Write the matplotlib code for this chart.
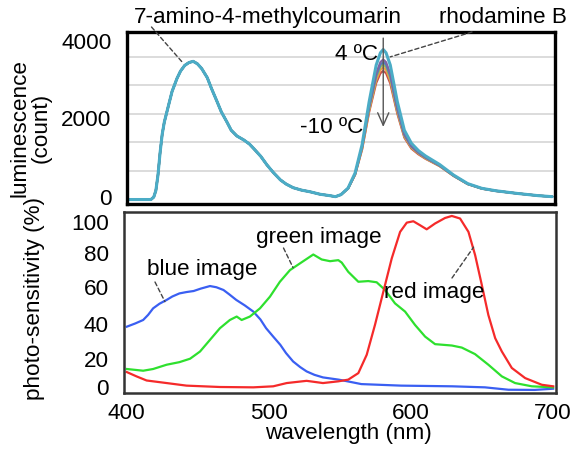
import matplotlib
matplotlib.use('Agg')
import matplotlib.pyplot as plt
from matplotlib.transforms import ScaledTranslation

plt.rcParams['font.family'] = ['Liberation Sans', 'DejaVu Sans']

W, H = 579, 453

# --- luminescence spectra (top) ---
# shared part of the spectrum (7-amino-4-methylcoumarin band), identical for all temperatures
lum_wl_common = [400, 410, 415, 417, 418.5, 420, 421.5, 423, 424.5, 427.5, 430, 433.5, 436, 439,
                 442, 445, 448, 451, 455, 458, 462, 465, 469, 472, 476, 481, 485, 488, 493, 497.5,
                 502, 507, 511, 516, 522, 528, 535, 542, 546, 550]
lum_common = [0, 0, 0, 60, 220, 600, 1150, 1600, 1900, 2310, 2650, 2970, 3150, 3290,
              3360, 3390, 3330, 3215, 2990, 2725, 2400, 2150, 1900, 1700, 1560, 1460, 1360, 1250, 1060, 845,
              660, 480, 380, 290, 230, 190, 130, 95, 70, 120]

# rhodamine B band, one series per temperature
lum_wl_rhod = [555, 560, 565, 570, 575, 578, 580, 582, 585, 590, 595, 600, 605, 610, 620,
               630, 640, 650, 660, 675, 690, 700]
temps = ['4', '0', '-2', '-4', '-6', '-10']
lum_rhod = {
    '4':   [280, 650, 1350, 2400, 3300, 3600, 3680, 3600, 3300, 2400, 1700, 1380, 1200, 1070, 860, 600, 390, 275, 215, 150, 95, 70],
    '0':   [275, 630, 1300, 2300, 3100, 3370, 3435, 3370, 3090, 2260, 1610, 1320, 1160, 1040, 840, 590, 385, 272, 213, 150, 95, 70],
    '-2':  [275, 625, 1290, 2270, 3040, 3310, 3370, 3310, 3030, 2220, 1590, 1300, 1150, 1030, 835, 585, 383, 271, 212, 150, 95, 70],
    '-4':  [272, 620, 1270, 2230, 2990, 3250, 3310, 3250, 2980, 2190, 1570, 1290, 1140, 1020, 830, 583, 381, 270, 212, 150, 95, 70],
    '-6':  [270, 615, 1250, 2190, 2930, 3180, 3240, 3180, 2920, 2150, 1550, 1270, 1130, 1010, 825, 580, 380, 268, 211, 150, 95, 70],
    '-10': [268, 605, 1230, 2150, 2860, 3100, 3155, 3100, 2850, 2110, 1520, 1250, 1110, 1000, 820, 578, 378, 267, 210, 150, 95, 70],
}
temp_colors = {'4': '#4bacc6', '0': '#8064a2', '-2': '#4f81bd', '-4': '#9bbb59',
               '-6': '#f79646', '-10': '#c0504d'}

# --- photo-sensitivity (bottom) ---
blue_wl = [400, 406, 411.5, 415, 418.5, 423, 428, 432, 437, 442, 447, 452, 458.5, 463, 468, 472, 477,
           483, 489, 494, 498, 503, 508, 512, 517, 522, 526.5, 532, 538, 549, 553.5, 565, 593,
           629, 652, 668.5, 687, 700]
blue_val = [35.6, 37.5, 39.5, 42.5, 46.3, 49, 51.2, 53.2, 55, 55.8, 56.4, 57.8, 59.3, 58.6, 57, 54.5, 51.2,
            48, 44.4, 39.8, 34.7, 29.8, 25, 20.2, 15.3, 12, 9.5, 7.5, 6,
            4.7, 4, 2.1, 1.2, 0.8, 0.2, -1.2, -1.3, -0.6]

green_wl = [400, 411.5, 418.5, 428, 437, 444.5, 451.5, 458.5, 465.5, 472.5, 477.3, 480.8, 486.6,
            493.7, 500.7, 507.7, 514.8, 521.8, 531.2, 537.1, 543, 548.8, 551.2, 555.8, 562.9,
            569.9, 575.8, 581.7, 588.7, 595.8, 602.8, 609.9, 616.9, 628.7, 635.7, 645, 654.4,
            663.9, 673.2, 685, 700]
green_val = [10.9, 9.9, 10.9, 13.4, 14.9, 16.9, 21.1, 27.9, 34.7, 39.5, 41.5, 39.5, 41.5,
             46.3, 53.1, 61.8, 68.6, 72.5, 77.7, 74.8, 73.8, 74.4, 73, 67.6, 61.8,
             62.2, 61.5, 57, 49.2, 44.4, 36.6, 29.8, 25.4, 24.6, 23.4, 19.6, 13.4,
             6.6, 2.7, 0.8, 0.2]

red_wl = [400, 406.8, 413.9, 428, 442, 465.5, 489, 503, 512.5, 526.5, 538, 548.8, 555.8, 562.9,
          568.8, 574.6, 580.5, 586.4, 592.3, 597, 601.6, 606.3, 611, 616.9, 623.9, 628.7, 634.5,
          640.4, 645.1, 649.8, 654.4, 659.2, 663.9, 670.9, 680.3, 692, 700]
red_val = [9.1, 6.6, 4.2, 2.7, 1.2, 0.4, 0.2, 0.8, 2.7, 4, 2.7, 3.7, 4.7, 8.5,
           19.2, 36.6, 56, 75.4, 90.9, 96.3, 97.1, 94.8, 92.4, 95.8, 99, 100.2, 98.7,
           90.9, 77.3, 59.9, 42.4, 28.9, 21.1, 11.5, 5.6, 1.7, 0.8]


def fig_xy(x, y):
    # pixel position (from top-left) -> figure fraction
    return x / W, 1 - y / H


def axes_rect(left, top, right, bottom):
    return [left / W, 1 - bottom / H, (right - left) / W, (bottom - top) / H]


def nudge(label, dy_px):
    label.set_transform(label.get_transform() + ScaledTranslation(0, -dy_px / 100, fig.dpi_scale_trans))


fig = plt.figure(figsize=(W / 100, H / 100), dpi=100)
fs = 16.2

# top panel
ax1 = fig.add_axes(axes_rect(127, 32, 555, 204))
for t in reversed(temps):
    ax1.plot(lum_wl_common + lum_wl_rhod, lum_common + lum_rhod[t],
             color=temp_colors[t], lw=2.2 if t == '4' else 1.6, solid_capstyle='round')
ax1.set_xlim(398, 702)
ax1.set_ylim(-110, 4110)
ax1.set_xticks([])
ax1.set_yticks([0, 2000, 4000])
ax1.set_yticks([700, 1400, 2100, 2800, 3500], minor=True)
ax1.grid(True, which='minor', axis='y', color='#d9d9d9', lw=1.3)
ax1.tick_params(axis='y', which='both', length=0, labelsize=fs, pad=11)
for s in ax1.spines.values():
    s.set_linewidth(2.4)
    s.set_color('black')
ax1.set_axisbelow(True)

# temperature arrow
ax1.annotate('', xy=(580, 1780), xytext=(580, 3960),
             arrowprops=dict(arrowstyle='->, head_length=0.9, head_width=0.4',
                             color='#555555', lw=1.0, shrinkA=0, shrinkB=0))
fig.text(*fig_xy(378, 60), '4 \u00baC', fontsize=fs, ha='right', va='baseline')
fig.text(*fig_xy(363, 133), '-10 \u00baC', fontsize=fs, ha='right', va='baseline')

# leaders to dye names
dash = dict(arrowstyle='-', linestyle=(0, (3, 2)), color='#444444', lw=1, shrinkA=0, shrinkB=0)
ax1.annotate('', xy=(437, 3380), xytext=fig_xy(151.5, 27), textcoords='figure fraction', arrowprops=dash)
ax1.annotate('', xy=(585, 3500), xytext=fig_xy(472, 32), textcoords='figure fraction', arrowprops=dash)
fig.text(*fig_xy(268, 23), '7-amino-4-methylcoumarin', fontsize=fs, ha='center', va='baseline')
fig.text(*fig_xy(503, 23), 'rhodamine B', fontsize=fs, ha='center', va='baseline')

# bottom panel
ax2 = fig.add_axes(axes_rect(124, 212, 556, 393))
ax2.plot(blue_wl, blue_val, color='#3a5ff2', lw=1.6)
ax2.plot(green_wl, green_val, color='#2ee02e', lw=1.6)
ax2.plot(red_wl, red_val, color='#f52a2a', lw=1.6)
ax2.set_xlim(398, 702)
ax2.set_ylim(-3.1, 102.5)
ax2.set_xticks([400, 500, 600, 700])
ax2.set_yticks([0, 20, 40, 60, 80, 100])
ax2.tick_params(axis='both', length=0, labelsize=fs)
ax2.tick_params(axis='y', pad=11)
ax2.tick_params(axis='x', pad=7)
for s in ax2.spines.values():
    s.set_linewidth(1.8)
    s.set_color('#333333')

# tick labels in the reference sit a little off the even spacing
nudge(ax1.get_yticklabels()[0], -3)
nudge(ax1.get_yticklabels()[2], 5)
for lab, dy in zip(ax2.get_yticklabels(), [-1, 6, 5, 2, 2, 6]):
    nudge(lab, dy)

ax2.annotate('', xy=(426.8, 50.2), xytext=fig_xy(155, 282), textcoords='figure fraction', arrowprops=dash)
ax2.annotate('', xy=(517, 70), xytext=fig_xy(283.5, 248), textcoords='figure fraction', arrowprops=dash)
ax2.annotate('', xy=(644, 82), xytext=fig_xy(452, 278), textcoords='figure fraction', arrowprops=dash)
fig.text(*fig_xy(202, 275), 'blue image', fontsize=fs, ha='center', va='baseline')
fig.text(*fig_xy(319, 243), 'green image', fontsize=fs, ha='center', va='baseline')
fig.text(*fig_xy(434, 298), 'red image', fontsize=fs, ha='center', va='baseline')

# axis titles
fig.text(*fig_xy(31, 128), 'luminescence\n(count)', fontsize=fs, rotation=90,
         ha='center', va='center', linespacing=1.0, multialignment='center')
fig.text(*fig_xy(35, 298), 'photo-sensitivity (%)', fontsize=fs, rotation=90,
         ha='center', va='center')
fig.text(*fig_xy(348, 433), 'wavelength (nm)', fontsize=fs, ha='center', va='center')

fig.savefig('out.png', dpi=100)
